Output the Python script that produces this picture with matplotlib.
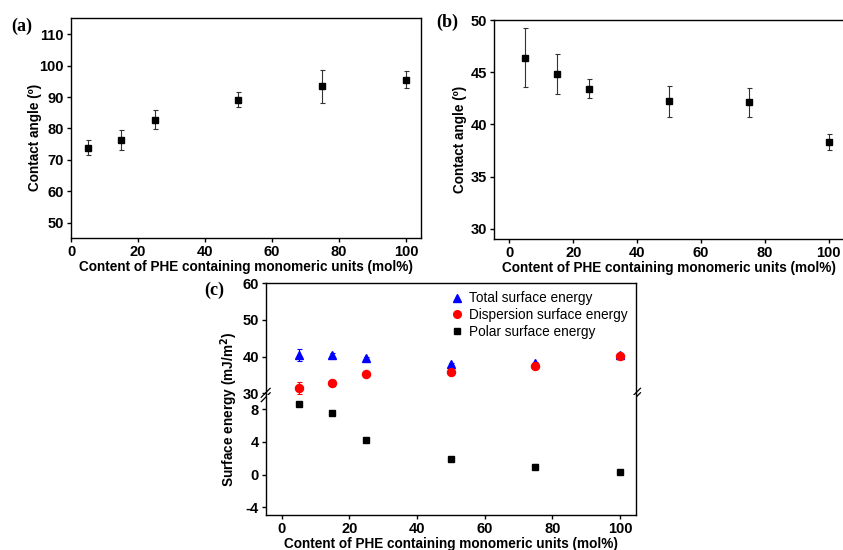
import matplotlib
matplotlib.use("Agg")
import matplotlib.pyplot as plt

plt.rcParams['font.family'] = ['Liberation Sans', 'DejaVu Sans']
plt.rcParams['font.weight'] = 'bold'
plt.rcParams['axes.labelweight'] = 'bold'
plt.rcParams['axes.linewidth'] = 1.0
plt.rcParams['axes.unicode_minus'] = False

# data
content = [5, 15, 25, 50, 75, 100]

angle_a = [73.9, 76.3, 82.8, 89.2, 93.4, 95.5]
err_a = [2.5, 3.1, 3.1, 2.4, 5.2, 2.7]

angle_b = [46.4, 44.8, 43.4, 42.2, 42.1, 38.3]
err_b = [2.8, 1.9, 0.9, 1.45, 1.35, 0.8]

total_e = [40.4, 40.4, 39.6, 37.9, 38.3, 40.4]
total_err = [1.7, 0.6, 0.3, 0.3, 0.3, 0.2]
disp_e = [31.5, 32.7, 35.2, 35.9, 37.3, 40.2]
disp_err = [1.6, 0.8, 0.3, 0.3, 0.3, 0.2]
polar_e = [8.7, 7.5, 4.24, 1.92, 0.98, 0.37]
polar_err = [0.2, 0.1, 0.1, 0.1, 0.3, 0.1]

xlab = "Content of PHE containing monomeric units (mol%)"
fs = 10.5
lfs = 9.8


def style(ax):
    ax.tick_params(direction='out', length=3, width=1, pad=2, labelsize=fs, top=False, right=False)
    for t in ax.get_xticklabels() + ax.get_yticklabels():
        t.set_fontweight('bold')


fig = plt.figure(figsize=(8.43, 5.5), dpi=100)

# (a)
ax_a = fig.add_axes([71/843, 1-238/550, 350/843, 220/550])
ax_a.errorbar(content, angle_a, yerr=err_a, fmt='s', color='black', ms=4.8,
              ecolor='#333333', elinewidth=0.8, capsize=1.8, capthick=0.8)
ax_a.set_xlim(0, 104.5)
ax_a.set_ylim(45.1, 115.2)
ax_a.set_xticks([0, 20, 40, 60, 80, 100])
ax_a.set_yticks([50, 60, 70, 80, 90, 100, 110])
ax_a.set_xlabel(xlab, fontsize=lfs, labelpad=1)
ax_a.set_ylabel("Contact angle (º)", fontsize=lfs)
ax_a.yaxis.set_label_coords(-0.083, 0.459)
style(ax_a)

# (b)
ax_b = fig.add_axes([494/843, 1-238.7/550, 349/843, 218.7/550])
ax_b.errorbar(content, angle_b, yerr=err_b, fmt='s', color='black', ms=4.8,
              ecolor='#333333', elinewidth=0.8, capsize=1.8, capthick=0.8)
ax_b.set_xlim(-4.8, 104.5)
ax_b.set_ylim(29.04, 50)
ax_b.set_xticks([0, 20, 40, 60, 80, 100])
ax_b.set_yticks([30, 35, 40, 45, 50])
ax_b.set_xlabel(xlab, fontsize=lfs, labelpad=1)
ax_b.set_ylabel("Contact angle (º)", fontsize=lfs)
ax_b.yaxis.set_label_coords(-0.077, 0.456)
ax_b.spines['right'].set_visible(False)
style(ax_b)

# (c) broken y axis
left_c = 265.7/843
w_c = (636-265.7)/843
ax_top = fig.add_axes([left_c, 1-395/550, w_c, (395-283.3)/550])
ax_bot = fig.add_axes([left_c, 1-515/550, w_c, (515-395)/550])

ax_top.errorbar(content, total_e, yerr=total_err, fmt='^', color='blue', ms=5.8,
                elinewidth=0.8, capsize=1.8, capthick=0.8)
ax_top.errorbar(content, disp_e, yerr=disp_err, fmt='o', color='red', ms=5.8,
                elinewidth=0.8, capsize=1.8, capthick=0.8)
ax_bot.errorbar(content, polar_e, yerr=polar_err, fmt='s', color='black', ms=5,
                elinewidth=0.8, capsize=1.8, capthick=0.8)
# legend proxies (markers only)
h1, = ax_top.plot([], [], '^', color='blue', ms=5.5, label='Total surface energy')
h2, = ax_top.plot([], [], 'o', color='red', ms=5.5, label='Dispersion surface energy')
h3, = ax_top.plot([], [], 's', color='black', ms=4.8, label='Polar surface energy')

ax_top.set_xlim(-4.7, 104.7)
ax_bot.set_xlim(-4.7, 104.7)
ax_top.set_ylim(29.5, 60)
ax_bot.set_ylim(-4.94, 9.75)
ax_top.set_yticks([30, 40, 50, 60])
ax_bot.set_yticks([-4, 0, 4, 8])
ax_bot.set_xticks([0, 20, 40, 60, 80, 100])
ax_top.set_xticks([])
ax_top.spines['bottom'].set_visible(False)
ax_bot.spines['top'].set_visible(False)
ax_bot.set_xlabel(xlab, fontsize=lfs, labelpad=1)
style(ax_top)
style(ax_bot)

leg = ax_top.legend(handles=[h1, h2, h3], loc='upper right', frameon=False, fontsize=9.8,
                    handletextpad=0.4, handlelength=1.0, borderaxespad=0.2, labelspacing=0.2)
for t in leg.get_texts():
    t.set_fontweight('normal')

# break marks
d = 0.012
kw = dict(color='black', lw=0.9, clip_on=False)
for xx in (0, 1):
    ax_top.plot([xx - d, xx + d], [-0.06, 0.02], transform=ax_top.transAxes, **kw)
    ax_top.plot([xx - d, xx + d], [-0.02, 0.06], transform=ax_top.transAxes, **kw)

fig.text(229/843, 1-409/550, "Surface energy (mJ/m$^\\mathbf{2}$)", rotation=90,
         ha='center', va='center', fontsize=lfs, fontweight='bold')

# panel labels
pl = dict(family='Liberation Serif', fontweight='bold', fontsize=13, va='center', ha='left')
fig.text(11/843, 1-26/550, "(a)", **pl)
fig.text(436/843, 1-22/550, "(b)", **pl)
fig.text(204/843, 1-290/550, "(c)", **pl)

fig.savefig("out.png", dpi=100)
